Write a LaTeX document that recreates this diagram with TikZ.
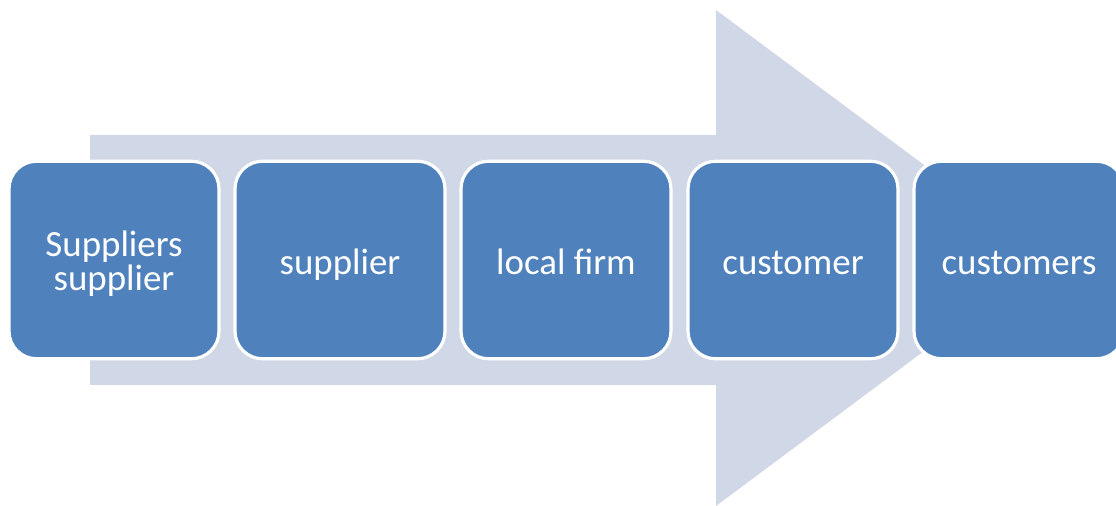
\documentclass[tikz,border=0pt]{standalone}
\usepackage{fontspec}
\setmainfont{Carlito}
\usetikzlibrary{positioning}
\definecolor{boxblue}{HTML}{4F81BD}
\definecolor{arrowgray}{HTML}{D0D8E8}

\begin{document}
\begin{tikzpicture}[x=0.02cm, y=0.02cm,
  stage/.style={draw=white, line width=1.8pt, fill=boxblue, rounded corners=0.55cm,
    minimum width=4.2cm, minimum height=3.95cm, text=white, align=center,
    font=\fontsize{21}{19.5}\selectfont, text height=16.5pt, text depth=0pt}]
  \useasboundingbox (0,0) rectangle (1116,506);
  \clip (0,0) rectangle (1116,506);
  % big arrow behind the chain
  \fill[arrowgray] (90,121) -- (716,121) -- (716,0) -- (1049,248)
    -- (716,496) -- (716,371) -- (90,371) -- cycle;
  % the chain, left to right
  \node[stage, text height=35pt] (supsup) at (114,246) {Suppliers\\supplier};
  \node[stage] (supp) at (340,246) {supplier};
  \node[stage] (firm) at (566,246) {local firm};
  \node[stage] (cust) at (793,246) {customer};
  \node[stage] (custs) at (1019,246) {customers};
\end{tikzpicture}
\end{document}
